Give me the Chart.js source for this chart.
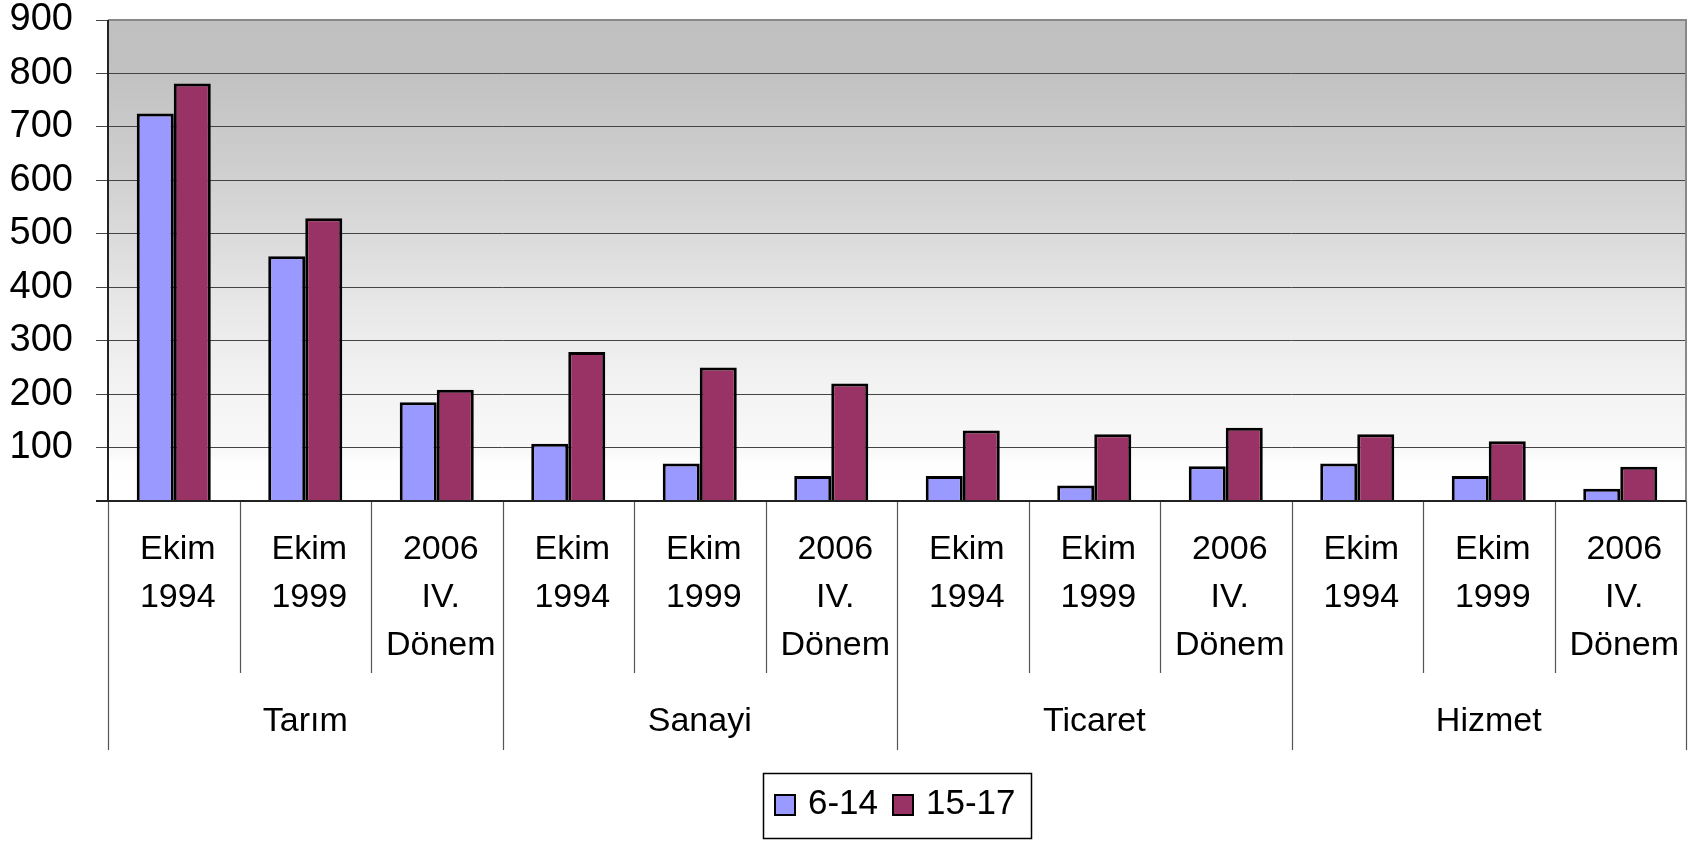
<!DOCTYPE html>
<html>
<head>
<meta charset="utf-8">
<script src="https://cdn.jsdelivr.net/npm/chart.js@4.4.1/dist/chart.umd.min.js"></script>
<style>
  html, body { margin: 0; padding: 0; background: #fff; }
  #wrap { width: 1702px; height: 841px; }
</style>
</head>
<body>
<div id="wrap"><canvas id="chart" width="1702" height="841"></canvas></div>
<script>
// --- Data ---
const periods = [
    ['Ekim', '1994'], ['Ekim', '1999'], ['2006', 'IV.', 'Dönem'],
    ['Ekim', '1994'], ['Ekim', '1999'], ['2006', 'IV.', 'Dönem'],
    ['Ekim', '1994'], ['Ekim', '1999'], ['2006', 'IV.', 'Dönem'],
    ['Ekim', '1994'], ['Ekim', '1999'], ['2006', 'IV.', 'Dönem']
];
const sectors = ['Tarım', 'Sanayi', 'Ticaret', 'Hizmet'];
const age6to14 = [725, 458, 185, 107, 70, 47, 47, 29, 65, 70, 47, 23];
const age15to17 = [781, 529, 208, 279, 250, 220, 132, 125, 137, 125, 112, 64];
const yTicks = [0, 100, 200, 300, 400, 500, 600, 700, 800, 900];

const FONT = '"Liberation Sans", Arial, sans-serif';

// --- Plugin: background, separators, group labels, legend ---
const decor = {
    id: 'decor',
    beforeDraw(chart) {
        const { ctx, chartArea: a } = chart;
        const g = ctx.createLinearGradient(0, a.top, 0, a.bottom);
        g.addColorStop(0, '#c0c0c0');
        g.addColorStop(0.1, '#c1c1c1');
        g.addColorStop(0.3, '#cecece');
        g.addColorStop(0.45, '#dbdbdb');
        g.addColorStop(0.6, '#e8e8e8');
        g.addColorStop(0.75, '#f2f2f2');
        g.addColorStop(0.9, '#f9f9f9');
        g.addColorStop(0.92, '#fefefe');
        g.addColorStop(1, '#ffffff');
        ctx.save();
        ctx.fillStyle = g;
        ctx.fillRect(a.left, a.top, a.right - a.left, a.bottom - a.top);
        ctx.restore();
    },
    afterDraw(chart) {
        const { ctx, chartArea: a } = chart;
        const x = chart.scales.x;
        const n = periods.length;
        const step = (x.getPixelForValue(1) - x.getPixelForValue(0));
        ctx.save();

        // plot border top/right
        ctx.strokeStyle = '#888';
        ctx.lineWidth = 2;
        ctx.beginPath();
        ctx.moveTo(a.left, a.top);
        ctx.lineTo(a.right, a.top);
        ctx.lineTo(a.right, a.bottom);
        ctx.stroke();

        // category separators
        ctx.strokeStyle = '#555';
        ctx.lineWidth = 1.2;
        for (let k = 0; k <= n; k++) {
            const px = Math.round(x.getPixelForValue(k) - step / 2) + 0.5;
            const isGroup = k % 3 === 0;
            ctx.beginPath();
            ctx.moveTo(px, a.bottom);
            ctx.lineTo(px, isGroup ? 750 : 673);
            ctx.stroke();
        }

        // left axis line + bottom axis
        ctx.strokeStyle = '#222';
        ctx.lineWidth = 2;
        ctx.beginPath();
        ctx.moveTo(a.left, a.top);
        ctx.lineTo(a.left, a.bottom);
        ctx.moveTo(a.left - 12, a.bottom);
        ctx.lineTo(a.right, a.bottom);
        ctx.stroke();

        // sector labels
        ctx.fillStyle = '#000';
        ctx.font = '34px ' + FONT;
        ctx.textAlign = 'center';
        ctx.textBaseline = 'middle';
        sectors.forEach((s, i) => {
            const cx = (x.getPixelForValue(i * 3) + x.getPixelForValue(i * 3 + 2)) / 2;
            ctx.fillText(s, cx, 722);
        });

        // legend
        ctx.lineWidth = 1.5;
        ctx.strokeStyle = '#000';
        ctx.fillStyle = '#fff';
        ctx.fillRect(763, 773, 269, 66);
        ctx.strokeRect(763.5, 773.5, 268, 65);
        const items = chart.data.datasets.map(d => ({ label: d.label, color: d.backgroundColor }));
        const lx = [775, 893];
        ctx.font = '35px ' + FONT;
        ctx.textAlign = 'left';
        ctx.textBaseline = 'alphabetic';
        items.forEach((it, i) => {
            ctx.fillStyle = it.color;
            ctx.fillRect(lx[i], 795, 20, 20);
            ctx.lineWidth = 2;
            ctx.strokeRect(lx[i], 795, 20, 20);
            ctx.fillStyle = '#000';
            ctx.fillText(it.label, lx[i] + 33, 814);
        });
        ctx.restore();
    }
};

new Chart(document.getElementById('chart'), {
    type: 'bar',
    data: {
        labels: periods,
        datasets: [
            {
                label: '6-14',
                data: age6to14,
                backgroundColor: '#9999ff',
                borderColor: '#000',
                borderWidth: 3,
                borderSkipped: 'bottom',
                categoryPercentage: 0.563,
                barPercentage: 1.0
            },
            {
                label: '15-17',
                data: age15to17,
                backgroundColor: '#993366',
                borderColor: '#000',
                borderWidth: 3,
                borderSkipped: 'bottom',
                categoryPercentage: 0.563,
                barPercentage: 1.0
            }
        ]
    },
    options: {
        responsive: false,
        animation: false,
        devicePixelRatio: 1,
        layout: { padding: { top: 20, right: 16, left: 0, bottom: 0 } },
        plugins: { legend: { display: false }, tooltip: { enabled: false } },
        scales: {
            x: {
                offset: true,
                grid: { display: false, drawTicks: false },
                border: { display: false },
                ticks: {
                    color: '#000',
                    padding: 25,
                    labelOffset: 4,
                    maxRotation: 0,
                    autoSkip: false,
                    font: { family: FONT, size: 34, lineHeight: 48 / 34 }
                },
                afterFit: s => { s.height = 340; s.paddingLeft = 0; s.paddingRight = 0; }
            },
            y: {
                min: yTicks[0],
                max: yTicks[yTicks.length - 1],
                afterBuildTicks: s => { s.ticks = yTicks.map(v => ({ value: v })); },
                grid: { color: '#444', lineWidth: 1, tickLength: 12, drawTicks: true, tickColor: '#444' },
                border: { display: false },
                ticks: {
                    color: '#000',
                    padding: 23,
                    callback: v => v === 0 ? '' : String(v),
                    font: { family: FONT, size: 38, lineHeight: 1 }
                },
                afterFit: s => { s.width = 108; s.paddingTop = 0; s.paddingBottom = 0; }
            }
        }
    },
    plugins: [decor]
});
</script>
</body>
</html>
